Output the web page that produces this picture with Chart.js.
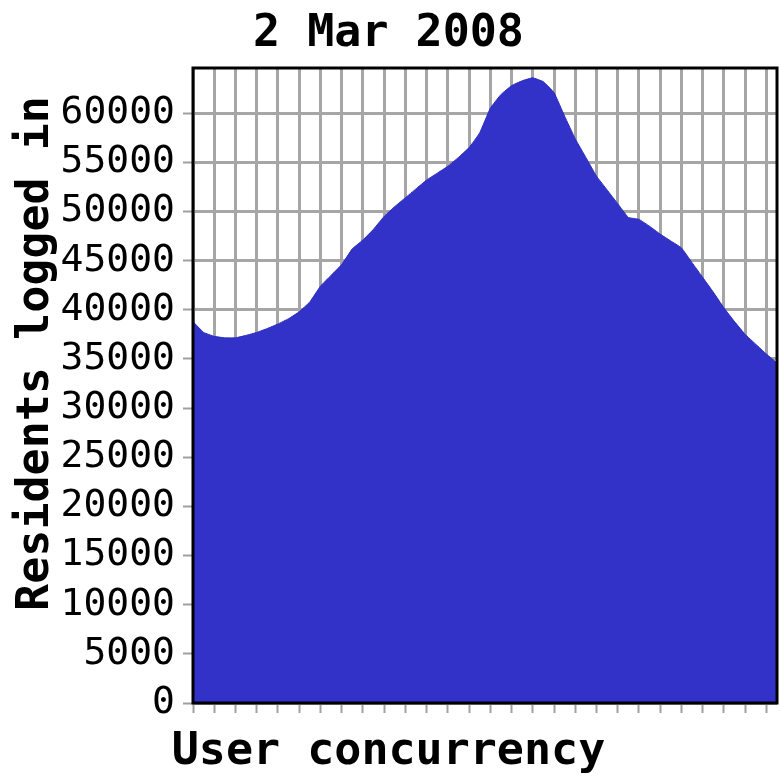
<!DOCTYPE html>
<html>
<head>
<meta charset="utf-8">
<title>2 Mar 2008</title>
<script src="https://cdn.jsdelivr.net/npm/chart.js@4.4.1/dist/chart.umd.min.js"></script>
<style>
	html, body { margin: 0; padding: 0; background: #ffffff; }
	#wrap { width: 780px; height: 780px; }
</style>
</head>
<body>
<div id="wrap"><canvas id="concurrencyChart" width="780" height="780"></canvas></div>
<script>
// Samples across the day (x) and residents logged in at each one (y)
var sampleNo = [
	0, 1, 2, 3, 4, 5, 6, 7, 8, 9,
	10, 11, 12, 13, 14, 15, 16, 17, 18, 19,
	20, 21, 22, 23, 24, 25, 26, 27, 28, 29,
	30, 31, 32, 33, 34, 35, 36, 37, 38, 39,
	40, 41, 42, 43, 44, 45, 46, 47, 48, 49,
	50, 51, 52, 53, 54, 55
];
var residents = [
	38800, 37700, 37300, 37150, 37150, 37400, 37700, 38100, 38550, 39100,
	39800, 40800, 42400, 43500, 44600, 46200, 47100, 48200, 49500, 50500,
	51400, 52300, 53200, 53900, 54600, 55500, 56500, 58000, 60500, 61900,
	62800, 63300, 63600, 63200, 62100, 59700, 57400, 55500, 53600, 52200,
	50800, 49400, 49200, 48500, 47700, 47000, 46300, 44800, 43300, 41800,
	40200, 38800, 37500, 36500, 35500, 34600
];
var yTicks = [0, 5000, 10000, 15000, 20000, 25000, 30000, 35000, 40000, 45000, 50000, 55000, 60000];
var yMin = 0;
var yMax = 64600;
var xStep = 2;
var yTitle = 'Residents logged in';

var mono = "'DejaVu Sans Mono', 'Liberation Mono', monospace";

// Black frame round the plot, plus the y title (sits a bit above the plot centre)
var framePlugin = {
	id: 'frame',
	afterDatasetsDraw: function(chart) {
		var a = chart.chartArea;
		var ctx = chart.ctx;
		ctx.save();
		ctx.strokeStyle = '#000000';
		ctx.lineWidth = 3;
		ctx.strokeRect(a.left, a.top, a.right - a.left, a.bottom - a.top);
		ctx.restore();
	},
	afterDraw: function(chart) {
		var a = chart.chartArea;
		var ctx = chart.ctx;
		ctx.save();
		ctx.translate(36, (a.top + a.bottom) / 2 - 32);
		ctx.rotate(-Math.PI / 2);
		ctx.font = 'bold 45px ' + mono;
		ctx.fillStyle = '#000000';
		ctx.textAlign = 'center';
		ctx.textBaseline = 'middle';
		ctx.fillText(yTitle, 0, 0);
		ctx.restore();
	}
};

var points = sampleNo.map(function(x, i) { return { x: x, y: residents[i] }; });

var concurrencyChart = new Chart(document.getElementById('concurrencyChart'), {
	type: 'line',
	data: {
		datasets: [{
			label: yTitle,
			data: points,
			borderColor: '#2b2bbd',
			backgroundColor: '#3232c8',
			borderWidth: 1,
			fill: 'origin',
			pointRadius: 0,
			tension: 0.1
		}]
	},
	options: {
		responsive: false,
		animation: false,
		devicePixelRatio: 1,
		layout: { padding: { left: 0, right: 3, top: 0, bottom: 0 } },
		plugins: {
			legend: { display: false },
			tooltip: { enabled: false },
			title: {
				display: true,
				text: '2 Mar 2008',
				color: '#000000',
				font: { family: mono, size: 45, weight: 'bold', lineHeight: 1 },
				padding: { top: 12, bottom: 11 }
			},
			subtitle: {
				display: true,
				position: 'bottom',
				text: 'User concurrency',
				color: '#000000',
				font: { family: mono, size: 45, weight: 'bold', lineHeight: 1 },
				padding: { top: 7, bottom: 5 }
			}
		},
		scales: {
			x: {
				type: 'linear',
				min: sampleNo[0],
				max: sampleNo[sampleNo.length - 1],
				border: { display: false },
				grid: {
					color: '#a6a6a6',
					lineWidth: 3,
					drawTicks: true,
					tickLength: 10,
					tickColor: '#a0a0a0',
					tickWidth: 2
				},
				ticks: { display: false, stepSize: xStep, includeBounds: false },
				afterFit: function(scale) { scale.height = 20; }
			},
			y: {
				min: yMin,
				max: yMax,
				border: { display: false },
				grid: {
					color: '#a6a6a6',
					lineWidth: 3,
					drawTicks: true,
					tickLength: 10,
					tickColor: '#a0a0a0',
					tickWidth: 2
				},
				ticks: {
					color: '#000000',
					padding: 8,
					font: { family: mono, size: 38, lineHeight: 1 },
					callback: function(value) { return String(value); }
				},
				afterBuildTicks: function(scale) {
					scale.ticks = yTicks.map(function(v) { return { value: v }; });
				},
				afterFit: function(scale) { scale.width = 193; }
			}
		}
	},
	plugins: [framePlugin]
});
</script>
</body>
</html>
